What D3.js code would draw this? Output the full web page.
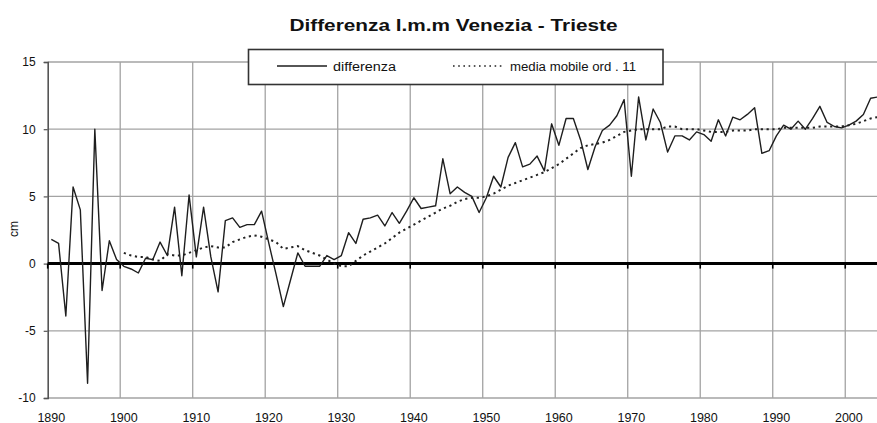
<!DOCTYPE html>
<html><head><meta charset="utf-8">
<script src="https://cdn.jsdelivr.net/npm/d3@7"></script>
<style>
body{margin:0;background:#fff}
svg{display:block}
text{font-family:"Liberation Sans",Arial,sans-serif;fill:#111}
</style>
</head><body>
<svg id="c" width="877" height="423"></svg>
<script>
// ---- data ----
const years = d3.range(1890, 2005);
const differenza = [
  1.8, 1.5, -3.9, 5.7, 4.0, -8.9, 10.0, -2.0, 1.7, 0.3,      // 1890-1899
  -0.2, -0.4, -0.7, 0.4, 0.3, 1.6, 0.6, 4.2, -0.9, 5.1,      // 1900-1909
  0.5, 4.2, 0.5, -2.1, 3.2, 3.4, 2.7, 2.9, 2.9, 3.9,         // 1910-1919
  1.5, -0.8, -3.2, -1.2, 0.8, -0.2, -0.2, -0.2, 0.6, 0.3,    // 1920-1929
  0.6, 2.3, 1.5, 3.3, 3.4, 3.6, 2.8, 3.8, 3.0, 3.9,          // 1930-1939
  4.9, 4.1, 4.2, 4.3, 7.8, 5.2, 5.7, 5.3, 5.0, 3.8,          // 1940-1949
  4.9, 6.5, 5.7, 7.9, 9.0, 7.2, 7.4, 8.0, 6.9, 10.4,         // 1950-1959
  8.8, 10.8, 10.8, 9.2, 7.0, 8.7, 9.9, 10.3, 11.0, 12.2,     // 1960-1969
  6.5, 12.4, 9.2, 11.5, 10.5, 8.3, 9.5, 9.5, 9.2, 9.8,       // 1970-1979
  9.6, 9.1, 10.7, 9.5, 10.9, 10.7, 11.1, 11.6, 8.2, 8.4,     // 1980-1989
  9.5, 10.3, 10.0, 10.6, 10.0, 10.8, 11.7, 10.5, 10.2, 10.1, // 1990-1999
  10.3, 10.6, 11.1, 12.3, 12.4                               // 2000-2004
];
const mediaYears = d3.range(1900, 2005);
const mediaMobile = [
  0.8, 0.6, 0.5, 0.5, 0.3, 0.2, 0.7, 0.6, 0.6, 0.8,          // 1900-1909
  1.0, 1.2, 1.3, 1.2, 1.2, 1.6, 1.8, 2.0, 2.1, 2.0,          // 1910-1919
  1.8, 1.6, 1.1, 1.2, 1.3, 1.0, 0.8, 0.6, 0.3, 0.0,          // 1920-1929
  -0.2, -0.2, 0.2, 0.6, 0.9, 1.2, 1.5, 1.9, 2.3, 2.6,        // 1930-1939
  2.9, 3.2, 3.5, 3.8, 4.1, 4.3, 4.6, 4.8, 4.9, 4.9,          // 1940-1949
  5.0, 5.2, 5.5, 5.8, 6.0, 6.2, 6.4, 6.6, 6.8, 7.1,          // 1950-1959
  7.4, 7.8, 8.2, 8.6, 8.8, 8.9, 9.0, 9.2, 9.5, 9.8,          // 1960-1969
  9.9, 10.0, 10.0, 10.0, 10.0, 10.2, 10.2, 10.0, 10.0, 10.0, // 1970-1979
  9.9, 9.8, 9.8, 9.8, 9.9, 9.9, 9.9, 10.0, 10.0, 10.0,       // 1980-1989
  10.0, 10.1, 10.1, 10.1, 10.1, 10.1, 10.2, 10.2, 10.2, 10.2,// 1990-1999
  10.3, 10.4, 10.6, 10.8, 10.9                               // 2000-2004
];
const yTicks = [-10, -5, 0, 5, 10, 15];
const xTickYears = [1890, 1900, 1910, 1920, 1930, 1940, 1950, 1960, 1970, 1980, 1990, 2000];
const titleText = "Differenza l.m.m Venezia - Trieste";
const legendLabels = ["differenza", "media mobile ord . 11"];
const yLabel = "cm";

// ---- chart ----
const W = 877, H = 423;
const svg = d3.select("#c");
const pLeft = 47.7, pRight = 881.5, pTop = 62, pBottom = 398;

const x = d3.scaleBand().domain(years).range([pLeft, pRight]).paddingInner(0).paddingOuter(0);
const y = d3.scaleLinear().domain([-10, 15]).range([pBottom, pTop]);
const bw = x.bandwidth();

const grid = svg.append("g");
grid.selectAll("line.h").data(yTicks.filter(d => d !== 0)).join("line")
  .attr("x1", pLeft).attr("x2", W)
  .attr("y1", d => y(d)).attr("y2", d => y(d))
  .attr("stroke", "#a3a3a3").attr("stroke-width", 1.3);
grid.selectAll("line.v").data(xTickYears.filter(d => d !== 1890)).join("line")
  .attr("x1", d => x(d)).attr("x2", d => x(d))
  .attr("y1", pTop).attr("y2", pBottom)
  .attr("stroke", "#a3a3a3").attr("stroke-width", 1.3);

// left axis
const yAxis = d3.axisLeft(y).tickValues(yTicks).tickSize(4).tickPadding(8).tickFormat(d => String(d));
const ga = svg.append("g").attr("transform", `translate(${pLeft},0)`).call(yAxis);
ga.select(".domain").attr("stroke", "#555").attr("stroke-width", 1.6);
ga.selectAll(".tick line").attr("stroke", "#555").attr("stroke-width", 1.2);
ga.selectAll(".tick text").attr("font-size", 12).attr("fill", "#111")
  .style("font-family", '"Liberation Sans",Arial,sans-serif');

// bottom labels (category centered)
svg.append("g").selectAll("text").data(xTickYears).join("text")
  .attr("x", d => x(d) + bw / 2).attr("y", 421.5)
  .attr("text-anchor", "middle").attr("font-size", 12.5)
  .text(d => d);

// zero line + ticks
svg.append("line").attr("x1", pLeft).attr("x2", W).attr("y1", y(0)).attr("y2", y(0))
  .attr("stroke", "#000").attr("stroke-width", 3);
svg.append("g").selectAll("line").data(xTickYears).join("line")
  .attr("x1", d => x(d)).attr("x2", d => x(d))
  .attr("y1", y(0)).attr("y2", y(0) + 5)
  .attr("stroke", "#000").attr("stroke-width", 1.6);

// series
const diffData = years.map((yr, i) => ({ year: yr, v: differenza[i] }));
const maData = mediaYears.map((yr, i) => ({ year: yr, v: mediaMobile[i] }));
const line = d3.line().x(d => x(d.year) + bw / 2).y(d => y(d.v));

svg.append("path").datum(maData).attr("d", line)
  .attr("fill", "none").attr("stroke", "#222").attr("stroke-width", 2)
  .attr("stroke-dasharray", "2.2,3.6");
svg.append("path").datum(diffData).attr("d", line)
  .attr("fill", "none").attr("stroke", "#1e1e1e").attr("stroke-width", 1.4)
  .attr("stroke-linejoin", "round");

// legend
const lg = svg.append("g");
lg.append("rect").attr("x", 248.5).attr("y", 49.5).attr("width", 414.5).attr("height", 35)
  .attr("fill", "#fff").attr("stroke", "#333").attr("stroke-width", 1.6);
lg.append("line").attr("x1", 277).attr("x2", 327).attr("y1", 66).attr("y2", 66)
  .attr("stroke", "#1e1e1e").attr("stroke-width", 1.6);
lg.append("text").attr("x", 333).attr("y", 70.5).attr("font-size", 12)
  .attr("textLength", 63).attr("lengthAdjust", "spacingAndGlyphs").text(legendLabels[0]);
lg.append("line").attr("x1", 453).attr("x2", 505).attr("y1", 66).attr("y2", 66)
  .attr("stroke", "#222").attr("stroke-width", 1.6).attr("stroke-dasharray", "1.6,3.6");
lg.append("text").attr("x", 510).attr("y", 70.5).attr("font-size", 12)
  .attr("textLength", 126).attr("lengthAdjust", "spacingAndGlyphs").text(legendLabels[1]);

// title
svg.append("text").attr("x", 453.5).attr("y", 31).attr("text-anchor", "middle")
  .attr("font-size", 16.5).attr("font-weight", "bold")
  .attr("textLength", 328).attr("lengthAdjust", "spacingAndGlyphs")
  .text(titleText);

// y label
svg.append("text").attr("transform", "translate(18,229) rotate(-90)")
  .attr("text-anchor", "middle").attr("font-size", 12).text(yLabel);
</script>
</body></html>
